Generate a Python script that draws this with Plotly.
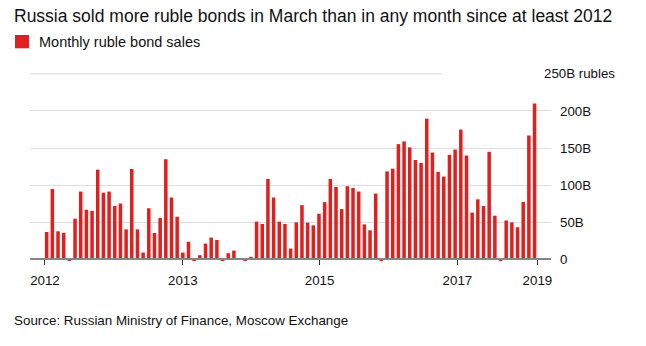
import plotly.graph_objects as go

# ---- data ----
months = [f"{y}-{m:02d}" for y in range(2012, 2020) for m in range(1, 13)][:87]
sales = [
    # 2012
    37, 95, 38, 36, -1.5, 55, 91.5, 67, 65.6, 121, 90, 91.5,
    # 2013
    72, 75.4, 40.6, 122, 40.6, 9.4, 69, 35.7, 56, 135, 83.5, 57.6,
    # 2014
    9.4, 24, -1.5, 5.8, 21.4, 29.5, 26.3, -1.5, 8.5, 12, 0.8, -1.2,
    # 2015
    3.6, 51, 47.8, 108.5, 83.5, 51, 47.8, 14.7, 50, 73.2, 49.6, 46,
    # 2016
    61.6, 77.2, 108.5, 97.8, 67.9, 98.7, 96.4, 91.5, 47.3, 39.3, 88.8, -1.5,
    # 2017
    118.7, 122.3, 155.4, 159, 151, 134, 130, 189.7, 144, 118, 111.7, 141,
    # 2018
    148, 175, 140, 63.2, 81, 72, 145, 59, -1.5, 52.5, 50, 43.5,
    # 2019
    77.6, 167, 210,
]
x_tick_labels = ["2012", "2013", "2015", "2017", "2019"]
y_tick_values = [0, 50, 100, 150, 200]
y_tick_labels = ["0", "50B", "100B", "150B", "200B"]
title_text = "Russia sold more ruble bonds in March than in any month since at least 2012"
legend_text = "Monthly ruble bond sales"
source_text = "Source: Russian Ministry of Finance, Moscow Exchange"
top_label = "250B rubles"

# ---- layout geometry (pixels) ----
W, H = 646, 346
ML, MR, MT, MB = 30, 95, 70, 84
PW, PH = W - ML - MR, H - MT - MB
Y_RANGE = [-3.37, 255.2]
X_RANGE = [-2.94, 88.9]

def px(xpix):
    return (xpix - ML) / PW

def py(ypix):
    return (H - MB - ypix) / PH

FONT = "Liberation Sans, Arial, Helvetica, sans-serif"
RED = "#e0201f"

idx = list(range(len(sales)))

fig = go.Figure(go.Bar(
    x=idx, y=sales, customdata=months,
    marker=dict(color=RED, line=dict(width=0)),
    hovertemplate="%{customdata}: %{y}B<extra></extra>",
))

zero_pos = (0 - Y_RANGE[0]) / (Y_RANGE[1] - Y_RANGE[0])

fig.update_layout(
    width=W, height=H,
    margin=dict(l=ML, r=MR, t=MT, b=MB),
    paper_bgcolor="white", plot_bgcolor="white",
    bargap=0.38,
    showlegend=False,
    font=dict(family=FONT, size=13, color="#111"),
    xaxis=dict(
        range=X_RANGE, anchor="free", position=zero_pos,
        showgrid=False, zeroline=False,
        showline=True, linecolor="#858585", linewidth=2,
        ticks="outside", ticklen=5, tickwidth=1, tickcolor="#333",
        tickvals=[-0.3, 24, 48.1, 72.4, 86.5], ticktext=x_tick_labels,
        tickfont=dict(size=13.3, color="#111"), ticklabelstandoff=4,
    ),
    yaxis=dict(
        range=Y_RANGE, side="right",
        tickvals=y_tick_values, ticktext=y_tick_labels,
        showgrid=True, gridcolor="#dedede", gridwidth=1.4,
        zeroline=False, ticks="", ticklabelstandoff=8,
        tickfont=dict(size=13.3, color="#111"),
    ),
    shapes=[
        dict(type="line", xref="paper", yref="y", x0=0, x1=px(442), y0=250, y1=250,
             line=dict(color="#dedede", width=1.4), layer="below"),
        dict(type="rect", xref="paper", yref="paper",
             x0=px(15), x1=px(29), y0=py(48.3), y1=py(35),
             fillcolor=RED, line=dict(width=0)),
    ],
    annotations=[
        dict(text=title_text, xref="paper", yref="paper", x=px(12), y=py(16),
             xanchor="left", yanchor="middle", showarrow=False,
             font=dict(size=17.5, color="#111", family=FONT)),
        dict(text=legend_text, xref="paper", yref="paper", x=px(37), y=py(42),
             xanchor="left", yanchor="middle", showarrow=False,
             font=dict(size=14.5, color="#111", family=FONT)),
        dict(text=top_label, xref="paper", yref="y", x=px(542), y=250,
             xanchor="left", yanchor="middle", showarrow=False,
             font=dict(size=13.3, color="#111", family=FONT)),
        dict(text=source_text, xref="paper", yref="paper", x=px(12), y=py(320),
             xanchor="left", yanchor="middle", showarrow=False,
             font=dict(size=13.4, color="#111", family=FONT)),
    ],
)

fig.write_html("out.html")
